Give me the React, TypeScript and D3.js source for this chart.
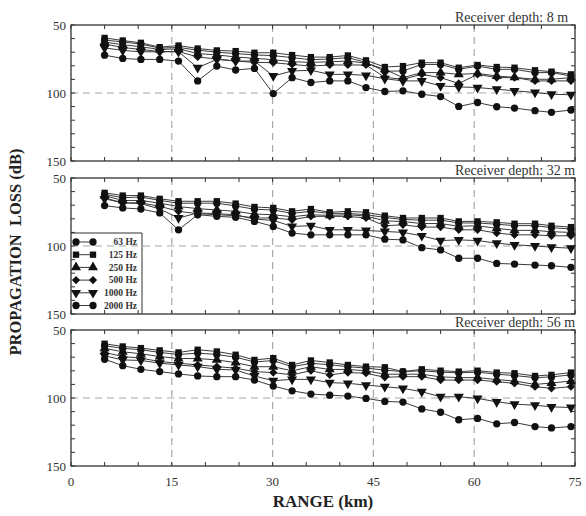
import React from "react";
import * as d3 from "d3";

// Range of each computed point (km)
const RANGE_KM = [5, 7.7, 10.4, 13.2, 16, 18.85, 21.7, 24.5, 27.3, 30.1, 32.9, 35.7, 38.5, 41.2, 43.9, 46.7, 49.4, 52.2, 55, 57.7, 60.5, 63.35, 66, 69.05, 71.5, 74.4];

const FREQ_LABELS = ["63 Hz", "125 Hz", "250 Hz", "500 Hz", "1000 Hz", "2000 Hz"];
const DEPTH_LABELS = ["Receiver depth: 8 m", "Receiver depth: 32 m", "Receiver depth: 56 m"];
const X_TICK_LABELS = [0, 15, 30, 45, 60, 75];
const Y_TICK_LABELS = [50, 100, 150];

// Propagation loss (dB), receiver depth 8 m
const D8_63 = [61, 62.5, 64, 67, 66.5, 68.5, 70, 71, 72, 72.5, 74, 75.5, 75, 74, 77.5, 84, 83.8, 79, 79, 82.6, 80.2, 82.6, 82.6, 85, 85, 87.5];
const D8_125 = [59.5, 61.4, 63.1, 66.3, 65.1, 67.3, 68.7, 69.2, 70.4, 70.4, 72.1, 73.6, 73.6, 72.4, 76, 80.9, 80.2, 77.7, 77.7, 81.4, 79.4, 80.9, 81.4, 83.3, 84.3, 86.3];
const D8_250 = [62.5, 64.5, 66, 68, 67.5, 71, 72, 73.5, 74.5, 75.5, 77, 77.5, 77, 76.5, 78, 82.6, 88.7, 85, 85, 86.3, 85.6, 87.5, 88.5, 89.9, 89.9, 88.7];
const D8_500 = [64, 66.5, 68, 69.5, 69.5, 73.5, 75, 76.5, 77.5, 77.7, 79, 80.2, 79.4, 79.4, 79.4, 88.5, 89.9, 86.3, 88.7, 93, 86.3, 88.7, 88.7, 91.1, 91.1, 91.1];
const D8_1000 = [66.8, 68.7, 69.7, 69.7, 69.7, 81.4, 75.3, 76.5, 76.5, 87.5, 83.8, 83.3, 86.3, 86.3, 87, 89.5, 91.1, 91.1, 94.8, 95.5, 96, 97.2, 98.4, 99.6, 100.9, 101.3];
const D8_2000 = [72.2, 74.6, 75.3, 75.3, 76.5, 91.1, 80.2, 83.1, 81.9, 100.4, 88.7, 92.3, 91.1, 91.1, 96, 98.9, 98.4, 100.9, 102.6, 109.9, 107, 110.1, 111.1, 113, 114.2, 112.5];

// Propagation loss (dB), receiver depth 32 m
const D32_63 = [62, 64.5, 64, 66.5, 68.5, 68.5, 68.5, 70.5, 73, 73.5, 76, 74.5, 76, 76, 77, 79, 80.5, 81, 81, 83, 83.1, 84, 85, 85, 86.5, 87.5];
const D32_125 = [60.9, 62.9, 62.9, 65.3, 67.1, 67.1, 67.1, 68.8, 71.3, 72, 74.5, 72.8, 75.2, 74.5, 75.2, 77.7, 79.4, 79.4, 79.4, 81.9, 81.9, 82.6, 83.6, 83.6, 85.1, 86.1];
const D32_250 = [63, 66.5, 66.5, 68.5, 71, 72.5, 73.5, 74.5, 76.5, 77, 78.5, 77, 77.5, 77, 78, 81.5, 82, 83.5, 83.5, 85.5, 85.1, 87, 88.5, 88.5, 89.5, 90];
const D32_500 = [64.6, 68.3, 68.3, 70.8, 74.5, 76.2, 77, 77.7, 79.4, 79.4, 80.7, 78.2, 78.2, 78.2, 79.4, 85.1, 84.4, 86.1, 86.1, 88.1, 88.1, 90.5, 91.8, 91.8, 92.5, 92.5];
const D32_1000 = [65.3, 68.3, 68.8, 72.8, 79.4, 75.7, 76.2, 77, 80.2, 81.2, 85.6, 85.1, 88.1, 88.1, 88.6, 89.3, 90, 92.5, 96, 95.5, 96, 97.9, 99.2, 99.9, 100.9, 101.6];
const D32_2000 = [70.3, 72, 72.8, 75.7, 88.1, 77, 78.2, 78.9, 81.9, 85.6, 90.5, 91.8, 91.8, 91.8, 91.8, 95, 95.5, 101.2, 102.9, 109, 109, 112.8, 113.3, 114, 114.5, 115.7];

// Propagation loss (dB), receiver depth 56 m
const D56_63 = [61.5, 63.5, 64.5, 66.5, 68, 67, 68, 70, 73.5, 72.5, 77, 74.5, 75.5, 77, 78, 79.5, 80.6, 80, 81, 81.5, 81, 82.5, 83.5, 85, 84.5, 83];
const D56_125 = [60.1, 62.1, 63.3, 65, 66.5, 64.5, 65.8, 68.2, 72, 70.7, 75.7, 72.4, 73.9, 75.7, 76.9, 77.4, 80.6, 78.9, 79.9, 80.6, 79.9, 81.3, 81.8, 83.8, 83, 81.3];
const D56_250 = [63.5, 66, 67.5, 69.5, 71, 71, 72, 74, 77, 77, 80, 77, 79, 79, 80, 82.5, 82.5, 82.5, 84.5, 85, 85, 86.5, 87.5, 90, 89, 87.5];
const D56_500 = [66.5, 69.5, 70.7, 73.2, 74.4, 75.7, 76.9, 78.1, 80.6, 81.3, 83, 79.9, 83, 81.3, 81.8, 84.8, 84.3, 84.3, 86.8, 86.8, 86.8, 88, 89.2, 91.7, 92.9, 91.7];
const D56_1000 = [69, 72, 72.4, 74.4, 75.7, 76.9, 78.9, 79.4, 83.8, 87.3, 86.3, 86.3, 88.7, 89.2, 90.5, 91.7, 92.9, 95.4, 99.1, 99.1, 100.3, 102.8, 104.5, 105.3, 106.5, 107];
const D56_2000 = [71.5, 76.2, 78.9, 80.6, 82.3, 83.8, 84.3, 84.3, 86.8, 91.2, 94.7, 97.1, 97.9, 98.6, 100.3, 102.5, 103, 108, 110.5, 116, 115, 119, 118, 121, 122, 121];

const PANEL_SERIES = [
  [D8_63, D8_125, D8_250, D8_500, D8_1000, D8_2000],
  [D32_63, D32_125, D32_250, D32_500, D32_1000, D32_2000],
  [D56_63, D56_125, D56_250, D56_500, D56_1000, D56_2000],
];

const W = 586;
const H = 516;
const PLOT_L = 71;
const PLOT_R = 575;
const PANEL_TOPS = [25, 178, 330];
const PANEL_H = 136;
const FONT = '"Liberation Serif", "Times New Roman", Times, serif';
const LINE_COLOR = "#3a3a3a";
const MARK_COLOR = "#111";
const FRAME_COLOR = "#333";
const GRID_COLOR = "#a8a8a8";

const x = d3.scaleLinear().domain([0, 75]).range([PLOT_L, PLOT_R]);

// Marker shapes: circle, square, triangle, diamond, inverted triangle, circle
const sym = d3.symbol();
const MARKERS = [
  { path: sym.type(d3.symbolCircle).size(42)() as string, rot: 0 },
  { path: sym.type(d3.symbolSquare).size(40)() as string, rot: 0 },
  { path: sym.type(d3.symbolTriangle).size(44)() as string, rot: 0 },
  { path: sym.type(d3.symbolSquare).size(34)() as string, rot: 45 },
  { path: sym.type(d3.symbolTriangle).size(44)() as string, rot: 180 },
  { path: sym.type(d3.symbolCircle).size(42)() as string, rot: 0 },
];

function Marker({ k, cx, cy }: { k: number; cx: number; cy: number }) {
  const m = MARKERS[k];
  return (
    <path
      d={m.path}
      transform={`translate(${cx},${cy})${m.rot ? ` rotate(${m.rot})` : ""}`}
      fill={MARK_COLOR}
    />
  );
}

function Panel({ index }: { index: number }) {
  const top = PANEL_TOPS[index];
  const bottom = top + PANEL_H;
  const y = d3.scaleLinear().domain([50, 150]).range([top, bottom]);
  const series = PANEL_SERIES[index];
  const line = d3
    .line<number>()
    .x((_, j) => x(RANGE_KM[j]))
    .y((v) => y(v));
  const minorY = d3.range(50, 151, 10);
  const minorX = d3.range(0, 76, 5);
  return (
    <g>
      {/* dashed reference grid */}
      {[15, 30, 45, 60].map((v) => (
        <line key={"gx" + v} x1={x(v)} x2={x(v)} y1={top} y2={bottom} stroke={GRID_COLOR} strokeWidth={1.2} strokeDasharray="7,5" />
      ))}
      <line x1={PLOT_L} x2={PLOT_R} y1={y(100)} y2={y(100)} stroke={GRID_COLOR} strokeWidth={1.2} strokeDasharray="7,5" />

      {/* inward ticks */}
      {minorY.map((v) => (
        <g key={"ty" + v}>
          <line x1={PLOT_L} x2={PLOT_L + 4} y1={y(v)} y2={y(v)} stroke={FRAME_COLOR} strokeWidth={1} />
          <line x1={PLOT_R - 4} x2={PLOT_R} y1={y(v)} y2={y(v)} stroke={FRAME_COLOR} strokeWidth={1} />
        </g>
      ))}
      {minorX.map((v) => (
        <g key={"tx" + v}>
          <line x1={x(v)} x2={x(v)} y1={top} y2={top + 4} stroke={FRAME_COLOR} strokeWidth={1} />
          <line x1={x(v)} x2={x(v)} y1={bottom - 4} y2={bottom} stroke={FRAME_COLOR} strokeWidth={1} />
        </g>
      ))}

      {/* series */}
      {series.map((vals, k) => (
        <g key={"s" + k}>
          <path d={line(vals) as string} fill="none" stroke={LINE_COLOR} strokeWidth={1} />
          {vals.map((v, j) => (
            <Marker key={j} k={k} cx={x(RANGE_KM[j])} cy={y(v)} />
          ))}
        </g>
      ))}

      <rect x={PLOT_L} y={top} width={PLOT_R - PLOT_L} height={PANEL_H} fill="none" stroke={FRAME_COLOR} strokeWidth={1.3} />

      {/* y tick labels */}
      {Y_TICK_LABELS.map((v) => (
        <text key={"ly" + v} x={PLOT_L - 5} y={y(v)} dy="0.35em" textAnchor="end" fontSize={13} fontFamily={FONT} fill="#333">
          {v}
        </text>
      ))}

      <text x={455} y={top - 3} fontSize={14} fontFamily={FONT} fill="#333">
        {DEPTH_LABELS[index]}
      </text>
    </g>
  );
}

function Legend() {
  const top = 233;
  const right = 142;
  const bottom = PANEL_TOPS[1] + PANEL_H;
  return (
    <g>
      <polyline points={`${PLOT_L},${top} ${right},${top} ${right},${bottom}`} fill="none" stroke={FRAME_COLOR} strokeWidth={1} />
      {FREQ_LABELS.map((label, k) => {
        const ry = 242 + k * 12.7;
        return (
          <g key={label}>
            <line x1={76} x2={93} y1={ry} y2={ry} stroke={LINE_COLOR} strokeWidth={1} />
            <Marker k={k} cx={76} cy={ry} />
            <Marker k={k} cx={93} cy={ry} />
            <text x={137} y={ry} dy="0.35em" textAnchor="end" fontSize={9.5} fontWeight="bold" fontFamily={FONT} fill="#333">
              {label}
            </text>
          </g>
        );
      })}
    </g>
  );
}

export default function App() {
  const lastBottom = PANEL_TOPS[2] + PANEL_H;
  return (
    <svg width={W} height={H} style={{ position: "absolute", left: 0, top: 0, background: "#fff" }}>
      {PANEL_TOPS.map((_, i) => (
        <Panel key={i} index={i} />
      ))}
      <Legend />
      {X_TICK_LABELS.map((v) => (
        <text key={"lx" + v} x={x(v)} y={lastBottom + 20} textAnchor="middle" fontSize={13} fontFamily={FONT} fill="#333">
          {v}
        </text>
      ))}
      <text x={(PLOT_L + PLOT_R) / 2} y={507} textAnchor="middle" fontSize={17} fontWeight="bold" fontFamily={FONT} fill="#222">
        RANGE (km)
      </text>
      <text
        transform={`translate(21,252) rotate(-90)`}
        textAnchor="middle"
        fontSize={16.5}
        fontWeight="bold"
        fontFamily={FONT}
        fill="#222"
        style={{ whiteSpace: "pre" }}
      >
        {"PROPAGATION  LOSS (dB)"}
      </text>
    </svg>
  );
}
